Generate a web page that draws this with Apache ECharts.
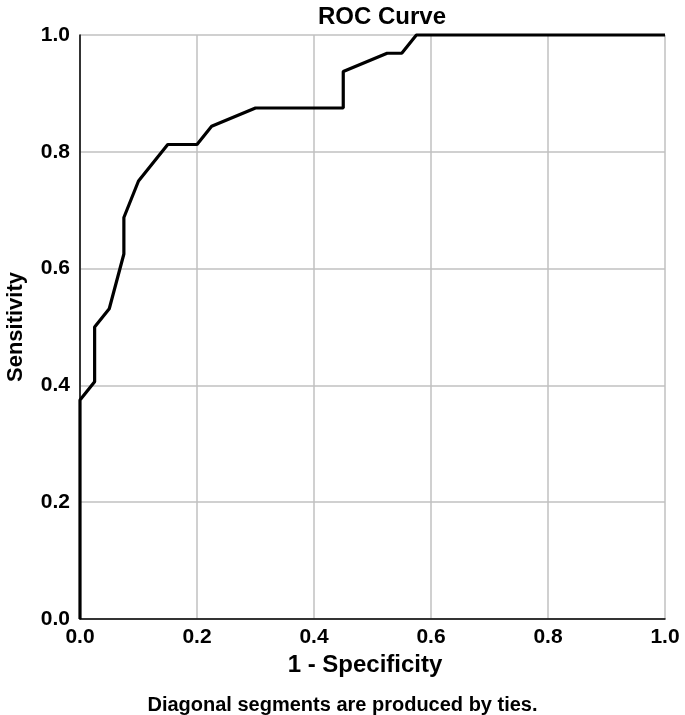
<!DOCTYPE html>
<html>
<head>
<meta charset="utf-8">
<script src="https://cdn.jsdelivr.net/npm/echarts@6/dist/echarts.min.js"></script>
<style>
  html, body { margin: 0; padding: 0; background: #fff; }
  #chart { width: 685px; height: 715px; }
</style>
</head>
<body>
<div id="chart"></div>
<script>
// ROC points: 1 - specificity vs sensitivity
const fpr = [0, 0, 0.025, 0.025, 0.05, 0.075, 0.075, 0.1, 0.15, 0.2, 0.225, 0.3, 0.45, 0.45, 0.525, 0.55, 0.575, 1];
const tpr = [0, 0.375, 0.40625, 0.5, 0.53125, 0.625, 0.6875, 0.75, 0.8125, 0.8125, 0.84375, 0.875, 0.875, 0.9375, 0.96875, 0.96875, 1, 1];
const tickLabels = ['0.0', '0.2', '0.4', '0.6', '0.8', '1.0'];

const FONT = '"Liberation Sans", Arial, sans-serif';
const chart = echarts.init(document.getElementById('chart'));

const axisCommon = {
  type: 'value',
  min: 0,
  max: 1,
  interval: 0.2,
  axisLine: { show: true, lineStyle: { color: '#000', width: 1.5 } },
  axisTick: { show: false },
  splitLine: { show: true, lineStyle: { color: '#c0c0c0', width: 1.5 } },
  axisLabel: {
    color: '#000',
    fontFamily: FONT,
    fontWeight: 'bold',
    fontSize: 21,
    formatter: v => tickLabels[Math.round(v * 5)]
  },
  nameLocation: 'middle',
  nameTextStyle: { color: '#000', fontFamily: FONT, fontWeight: 'bold' }
};

chart.setOption({
  animation: false,
  grid: { left: 80, right: 20, top: 35, bottom: 96, containLabel: false, outerBoundsMode: 'none' },
  xAxis: Object.assign({}, axisCommon, {
    name: '1 - Specificity',
    nameGap: 28,
    nameTextStyle: Object.assign({}, axisCommon.nameTextStyle, { fontSize: 24, padding: [0, 15, 0, 0] }),
    axisLabel: Object.assign({}, axisCommon.axisLabel, { margin: 8 })
  }),
  yAxis: Object.assign({}, axisCommon, {
    name: 'Sensitivity',
    nameGap: 53,
    nameTextStyle: Object.assign({}, axisCommon.nameTextStyle, { fontSize: 22 }),
    axisLabel: Object.assign({}, axisCommon.axisLabel, { margin: 10 })
  }),
  graphic: [
    {
      type: 'text', left: 318, top: 5,
      style: { text: 'ROC Curve', font: 'bold 24px ' + FONT, fill: '#000' }
    },
    {
      type: 'text', left: 'center', top: 695,
      style: { text: 'Diagonal segments are produced by ties.', font: 'bold 20px ' + FONT, fill: '#000' }
    }
  ],
  series: [{
    type: 'line',
    data: fpr.map((x, i) => [x, tpr[i]]),
    showSymbol: false,
    clip: false,
    lineStyle: { color: '#000', width: 3.2 }
  }]
});
</script>
</body>
</html>
